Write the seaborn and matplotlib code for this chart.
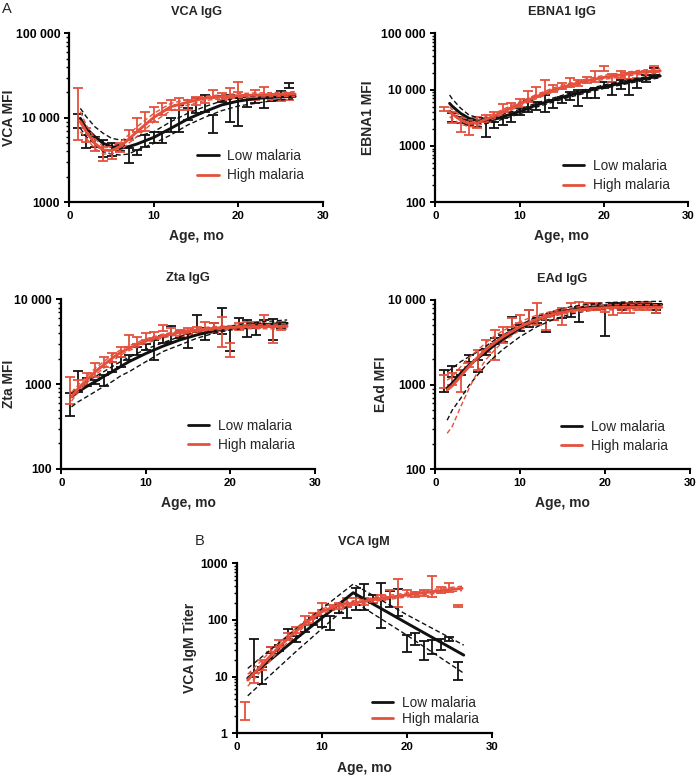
import numpy as np
import pandas as pd
import matplotlib
matplotlib.use("Agg")
import matplotlib.pyplot as plt
import seaborn as sns
from matplotlib.lines import Line2D
from matplotlib.ticker import LogLocator, NullFormatter, FixedLocator

nan = np.nan
months = list(range(1, 27))

# ---------------- VCA IgG ----------------
vca_low_hi = [11100, 6270, 6000, 5470, 5000, 4800, 4350, 4170, 6270, 6800, 6800, 9900, 14200, 12900, 17000, 18700, 10800, 18000, 18700, 17000, 18700, 18700, 18700, 18000, 20500, 25500]
vca_low_lo = [7500, 4350, 4500, 3470, 3530, 4000, 2950, 3630, 4560, 5000, 5000, 6800, 6800, 9400, 11300, 11800, 6600, 15500, 9000, 7900, 13500, 15000, 12900, 16000, 16200, 22300]
vca_high_hi = [22300, 7500, 5700, 4560, 4170, 5000, 7200, 9900, 11800, 13500, 14900, 16200, 17000, 16200, 17800, 17000, 21400, 19600, 22300, 26800, 18700, 21400, 23400, 18700, 19100, 19600]
vca_high_lo = [5470, 5200, 4000, 3050, 3300, 3900, 5470, 6800, 7000, 9000, 10800, 12400, 12400, 12400, 14200, 14900, 17000, 16200, 17000, 20400, 16200, 16200, 17800, 16200, 16000, 16200]
vca_fit_age = [1.3, 2, 3, 4, 5, 6, 7, 8, 10, 12, 14, 16, 18, 20, 22, 24, 26.7]
vca_low_fit = [9870, 7510, 5990, 4990, 4560, 4350, 4560, 4900, 5880, 7510, 9690, 11830, 14200, 15800, 16900, 17500, 17960]
vca_low_fit_hi = [12950, 10320, 7860, 6560, 5720, 5470, 5570, 5990, 6860, 9010, 11300, 13560, 15800, 17300, 18000, 18600, 19100]
vca_low_fit_lo = [7510, 5990, 4900, 3980, 3730, 3630, 3730, 4160, 4990, 6270, 8230, 10140, 12150, 13800, 14850, 15960, 16900]
vca_high_fit = [9010, 6860, 4990, 4160, 4100, 4560, 5570, 6860, 10140, 13560, 15300, 17100, 17800, 18300, 18600, 18900, 19100]
vca_high_fit_hi = [11830, 8230, 5720, 4560, 4560, 5150, 6270, 7860, 11300, 14850, 16500, 18000, 18700, 19400, 19700, 19900, 20400]
vca_high_fit_lo = [6860, 5720, 4350, 3730, 3730, 4100, 4990, 6000, 9010, 12150, 14200, 16000, 16900, 17300, 17500, 17800, 17900]

# ---------------- EBNA1 IgG ----------------
ebna_low_hi = [nan, 3800, 3320, 2890, 2890, 3100, 2700, 3100, 3550, 4660, 6550, 6120, 8040, 6550, 7510, 9210, 9860, 9860, 10560, 13870, 13870, 14850, 15200, 14850, 18200, 24300]
ebna_low_lo = [nan, 2700, 2520, 2360, 2200, 1460, 2060, 2360, 2700, 3550, 4070, 4350, 4070, 4660, 5720, 6550, 5200, 7010, 7200, 10560, 8040, 10300, 8040, 10560, 13870, 18200]
ebna_high_hi = [4900, 4070, 3100, 2700, 3320, 3550, 4070, 5560, 5720, 6700, 9600, 11000, 14850, 12100, 12950, 16300, 14850, 16500, 21700, 26300, 18900, 21200, 19500, 20900, 21700, 26300]
ebna_high_lo = [4220, 2520, 1800, 1570, 2060, 2700, 2980, 4070, 4070, 4990, 6120, 7300, 8900, 9210, 10200, 11000, 11800, 13000, 13870, 21200, 13870, 16300, 15200, 16000, 16300, 20900]
ebna_fit_age = [1.7, 2, 3, 4, 5, 6, 7, 8, 10, 12, 14, 16, 18, 20, 22, 24, 26.7]
ebna_low_fit = [5720, 5100, 3800, 3100, 2820, 2800, 2980, 3320, 4070, 5340, 6550, 8040, 9500, 11300, 12950, 14850, 17500]
ebna_low_fit_hi = [8040, 6900, 4700, 3550, 3200, 3100, 3300, 3650, 4450, 5800, 7100, 8700, 10200, 12100, 13900, 15900, 18700]
ebna_low_fit_lo = [4350, 3900, 3100, 2700, 2500, 2500, 2680, 3000, 3700, 4900, 6050, 7400, 8800, 10500, 12100, 13900, 16300]
ebna_high_fit = [4070, 3700, 2900, 2520, 2560, 2980, 3400, 4070, 5560, 7510, 9860, 12100, 14400, 16500, 18200, 20000, 21700]
ebna_high_fit_hi = [4990, 4450, 3400, 2900, 2900, 3320, 3750, 4450, 6050, 8200, 10700, 13100, 15600, 17900, 19800, 21800, 23900]
ebna_high_fit_lo = [3320, 3050, 2450, 2200, 2250, 2650, 3050, 3700, 5100, 6900, 9100, 11200, 13300, 15200, 16800, 18400, 19800]

# ---------------- Zta IgG ----------------
zta_low_hi = [790, 1430, 1170, 1120, 1280, 1840, 2110, 2210, 2720, 2960, 3320, 3700, 4850, 4250, 3880, 6540, 4550, 5300, 8000, 4760, 5970, 5710, 5210, 5710, 5800, 5450]
zta_low_lo = [420, 815, 960, 1010, 960, 1400, 1590, 1930, 2210, 2530, 1930, 3030, 3100, 3470, 2640, 4160, 3320, 4350, 3880, 2480, 4760, 3630, 3800, 4980, 3320, 4550]
zta_high_hi = [1230, 1120, 1340, 1760, 2110, 2330, 2720, 3800, 3630, 3970, 4160, 4980, 4550, 4350, 4550, 4760, 5450, 5210, 6250, 3030, 5210, 5450, 5450, 6540, 4980, 5450]
zta_high_lo = [590, 850, 980, 1230, 1590, 1800, 2070, 2770, 2960, 3320, 3470, 4250, 3880, 3700, 3880, 4160, 4350, 4060, 2770, 2110, 4350, 4550, 4550, 4980, 3030, 4350]
zta_fit_age = [1.2, 2, 3, 4, 5, 6, 7, 8, 10, 12, 14, 16, 18, 20, 22, 24, 26.7]
zta_low_fit = [710, 815, 940, 1070, 1230, 1400, 1610, 1840, 2300, 2800, 3320, 3800, 4240, 4550, 4850, 5050, 5210]
zta_low_fit_hi = [780, 890, 1070, 1230, 1400, 1610, 1840, 2070, 2580, 3080, 3630, 4160, 4550, 4850, 5210, 5450, 5710]
zta_low_fit_lo = [540, 620, 710, 815, 940, 1070, 1250, 1400, 1840, 2420, 2890, 3470, 3970, 4350, 4550, 4760, 4850]
zta_high_fit = [710, 890, 1120, 1400, 1680, 2020, 2360, 2640, 3230, 3700, 4060, 4350, 4550, 4660, 4760, 4760, 4800]
zta_high_fit_hi = [800, 980, 1230, 1540, 1840, 2210, 2530, 2820, 3420, 3880, 4250, 4550, 4760, 4900, 5000, 5050, 5150]
zta_high_fit_lo = [630, 815, 1030, 1280, 1540, 1840, 2200, 2480, 3030, 3500, 3880, 4160, 4350, 4450, 4500, 4500, 4450]

# ---------------- EAd IgG ----------------
ead_low_hi = [1490, 1660, 1490, 2240, 1960, 2620, 3530, 3860, 6360, 5070, 7620, 6080, 5810, 6960, 7620, 7620, 8340, 9130, 8730, 7970, 9130, 9130, 9130, 9560, 9560, 7620]
ead_low_lo = [830, 1220, 1300, 1870, 1420, 2240, 3020, 3220, 4420, 4330, 4840, 5300, 4230, 5810, 6080, 6360, 5550, 7620, 7620, 3760, 7970, 7620, 7970, 8340, 8340, 6960]
ead_high_hi = [1300, 1360, 1490, 1810, 2570, 3370, 4420, 4840, 6080, 6650, 7620, 9130, 6650, 7280, 7970, 9130, 9560, 9130, 9130, 8340, 7970, 8730, 9130, 9560, 9560, 8730]
ead_high_lo = [910, 990, 830, 1610, 1490, 2450, 1960, 3080, 4840, 5300, 5300, 5070, 4420, 5810, 5070, 7620, 7620, 7620, 7620, 7280, 6650, 6960, 6960, 7620, 7620, 6960]
ead_fit_age = [1.4, 2, 3, 4, 5, 6, 7, 8, 10, 12, 14, 16, 18, 20, 22, 24, 26.7]
ead_low_fit = [910, 1040, 1360, 1710, 2050, 2450, 2940, 3430, 4630, 5810, 6830, 7620, 8190, 8570, 8700, 8800, 8870]
ead_low_fit_hi = [1420, 1560, 1870, 2140, 2450, 2860, 3370, 3860, 5070, 6360, 7420, 8340, 8880, 9290, 9450, 9560, 9640]
ead_low_fit_lo = [380, 500, 690, 990, 1300, 1710, 2140, 2620, 3690, 4840, 5920, 6830, 7470, 7820, 7970, 8100, 8190]
ead_high_fit = [865, 970, 1260, 1650, 2100, 2620, 3140, 3690, 4840, 5920, 6830, 7470, 7890, 8100, 8190, 8190, 8190]
ead_high_fit_hi = [1130, 1240, 1630, 2100, 2570, 3140, 3770, 4340, 5550, 6650, 7470, 8100, 8530, 8730, 8800, 8800, 8800]
ead_high_fit_lo = [266, 320, 550, 910, 1420, 1990, 2570, 3220, 4420, 5550, 6480, 7080, 7470, 7620, 7620, 7620, 7620]

# ---------------- VCA IgM ----------------
igm_low_hi = [nan, 47, 15, 34, 36, 68, 52, 82, 107, 118, 118, 184, 172, 362, 430, 276, 444, 330, 350, 54, 60, 43, 44, 47, 51, 18.4]
igm_low_lo = [nan, 10, 7.5, 26, 28, 47, 41, 62, 82, 76, 67, 131, 107, 150, 150, 197, 71, 172, 118, 27, 36, 19.7, 25, 30, 43, 8.7]
igm_high_hi = [3.6, 11.7, 19.7, 34, 44, 58, 76, 118, 131, 197, 184, 202, 241, 241, 241, 232, 276, 338, 520, 338, 316, 338, 590, 375, 444, 184]
igm_high_lo = [1.7, 7.6, 13.1, 27, 34, 45, 60, 82, 87, 150, 150, 154, 172, 184, 184, 197, 225, 253, 172, 276, 253, 264, 253, 296, 316, 168]
igm_low_fit_age = [1.3, 7, 13.7, 20, 26.7]
igm_low_fit = [9.4, 47, 303, 88, 24]
igm_low_fit_hi = [14, 70, 430, 124, 36]
igm_low_fit_lo = [4.6, 28, 215, 54, 11.5]
igm_high_fit_age = [1.3, 5, 8, 10, 12, 14, 17, 20, 23, 26.5]
igm_high_fit = [8.7, 34, 87, 140, 184, 202, 241, 276, 316, 362]
igm_high_fit_hi = [11, 40, 97, 155, 200, 220, 262, 300, 345, 395]
igm_high_fit_lo = [6.8, 29, 78, 127, 168, 185, 222, 254, 290, 330]

# ---------------- text ----------------
titles = ["VCA IgG", "EBNA1 IgG", "Zta IgG", "EAd IgG", "VCA IgM"]
ylabels = ["VCA MFI", "EBNA1 MFI", "Zta MFI", "EAd MFI", "VCA IgM Titer"]
xlabel = "Age, mo"
legend_labels = ["Low malaria", "High malaria"]
x_ticks = [0, 10, 20, 30]
yt_vca = [1000, 10000, 100000]
yt_vca_lab = ["1000", "10 000", "100 000"]
yt_ebna = [100, 1000, 10000, 100000]
yt_ebna_lab = ["100", "1000", "10 000", "100 000"]
yt_zta = [100, 1000, 10000]
yt_zta_lab = ["100", "1000", "10 000"]
yt_igm = [1, 10, 100, 1000]
yt_igm_lab = ["1", "10", "100", "1000"]

BLACK = "#111111"
RED = "#E5503D"

sns.set_theme(style="ticks")
plt.rcParams["font.family"] = ["Liberation Sans", "DejaVu Sans"]

fig = plt.figure(figsize=(6.97, 7.77), dpi=100)

panels = [
    dict(pos=[0.0995, 0.7396, 0.364, 0.2175], title=titles[0], ylabel=ylabels[0],
         yt=yt_vca, ytl=yt_vca_lab, ylim=(1000, 100000), ylx=-0.212, leg=(0.505, 0.216), ls=0.38,
         bars=(vca_low_hi, vca_low_lo, vca_high_hi, vca_high_lo),
         low=(vca_fit_age, vca_low_fit, vca_low_fit_hi, vca_low_fit_lo),
         high=(vca_fit_age, vca_high_fit, vca_high_fit_hi, vca_high_fit_lo)),
    dict(pos=[0.6245, 0.7396, 0.3626, 0.2175], title=titles[1], ylabel=ylabels[1],
         yt=yt_ebna, ytl=yt_ebna_lab, ylim=(100, 100000), ylx=-0.24, leg=(0.505, 0.157), ls=0.38,
         bars=(ebna_low_hi, ebna_low_lo, ebna_high_hi, ebna_high_lo),
         low=(ebna_fit_age, ebna_low_fit, ebna_low_fit_hi, ebna_low_fit_lo),
         high=(ebna_fit_age, ebna_high_fit, ebna_high_fit_hi, ebna_high_fit_lo)),
    dict(pos=[0.088, 0.3964, 0.364, 0.2184], title=titles[2], ylabel=ylabels[2],
         yt=yt_zta, ytl=yt_zta_lab, ylim=(100, 10000), ylx=-0.18, leg=(0.50, 0.199), ls=0.38,
         bars=(zta_low_hi, zta_low_lo, zta_high_hi, zta_high_lo),
         low=(zta_fit_age, zta_low_fit, zta_low_fit_hi, zta_low_fit_lo),
         high=(zta_fit_age, zta_high_fit, zta_high_fit_hi, zta_high_fit_lo)),
    dict(pos=[0.6245, 0.396, 0.365, 0.2179], title=titles[3], ylabel=ylabels[3],
         yt=yt_zta, ytl=yt_zta_lab, ylim=(100, 10000), ylx=-0.186, leg=(0.493, 0.193), ls=0.38,
         bars=(ead_low_hi, ead_low_lo, ead_high_hi, ead_high_lo),
         low=(ead_fit_age, ead_low_fit, ead_low_fit_hi, ead_low_fit_lo),
         high=(ead_fit_age, ead_high_fit, ead_high_fit_hi, ead_high_fit_lo)),
    dict(pos=[0.3396, 0.0562, 0.366, 0.2188], title=titles[4], ylabel=ylabels[4],
         yt=yt_igm, ytl=yt_igm_lab, ylim=(1, 1000), ylx=-0.157, leg=(0.529, 0.131), ls=0.15,
         bars=(igm_low_hi, igm_low_lo, igm_high_hi, igm_high_lo),
         low=(igm_low_fit_age, igm_low_fit, igm_low_fit_hi, igm_low_fit_lo),
         high=(igm_high_fit_age, igm_high_fit, igm_high_fit_hi, igm_high_fit_lo)),
]

DASH = (0, (3.5, 2.0))


def draw_bars(ax, hi, lo, color):
    df = pd.DataFrame({"age": months, "hi": hi, "lo": lo}).dropna()
    ax.errorbar(df["age"], df["hi"], yerr=[df["hi"] - df["lo"], np.zeros(len(df))],
                fmt="none", ecolor=color, elinewidth=1.3, capsize=3.4, capthick=1.3,
                zorder=2)


def draw_fit(ax, curve, color, z):
    age, fit, fhi, flo = curve
    for vals, ls, lw in ((fhi, DASH, 1.0), (flo, DASH, 1.0), (fit, "-", 2.1)):
        d = pd.DataFrame({"age": age, "v": vals})
        sns.lineplot(data=d, x="age", y="v", ax=ax, color=color, lw=lw, linestyle=ls,
                     sort=False, estimator=None, legend=False, zorder=z)


for p in panels:
    ax = fig.add_axes(p["pos"])
    ax.set_yscale("log")
    lh, ll, hh, hl = p["bars"]
    draw_bars(ax, lh, ll, BLACK)
    draw_bars(ax, hh, hl, RED)
    draw_fit(ax, p["low"], BLACK, 3)
    draw_fit(ax, p["high"], RED, 4)

    ax.set_xlim(0, 30)
    ax.set_ylim(*p["ylim"])
    ax.xaxis.set_major_locator(FixedLocator(x_ticks))
    ax.set_xticklabels([str(t) for t in x_ticks])
    ax.yaxis.set_major_locator(FixedLocator(p["yt"]))
    ax.set_yticklabels(p["ytl"])
    ax.yaxis.set_minor_locator(LogLocator(base=10, subs=np.arange(2, 10), numticks=20))
    ax.yaxis.set_minor_formatter(NullFormatter())
    ax.xaxis.set_minor_locator(FixedLocator([]))
    sns.despine(ax=ax)
    for s in ("left", "bottom"):
        ax.spines[s].set_linewidth(1.6)
        ax.spines[s].set_color("black")
    ax.tick_params(axis="both", which="major", length=3.8, width=1.4, color="black",
                   pad=2.8, labelcolor="black")
    ax.tick_params(axis="x", which="major", labelsize=8.2)
    ax.tick_params(axis="y", which="major", labelsize=8.8)
    ax.tick_params(axis="y", which="minor", length=2.2, width=1.0, color="black")
    for lab in ax.get_xticklabels() + ax.get_yticklabels():
        lab.set_fontweight("bold")
    ax.set_title(p["title"], fontsize=9.2, fontweight="bold", pad=13)
    ax.set_xlabel(xlabel, fontsize=10, fontweight="bold")
    ax.set_ylabel(p["ylabel"], fontsize=10, fontweight="bold")
    ax.xaxis.set_label_coords(0.5, -0.16)
    ax.yaxis.set_label_coords(p["ylx"], 0.5)
    ax.grid(False)
    ax.set_facecolor("white")

    handles = [Line2D([], [], color=BLACK, lw=2.0), Line2D([], [], color=RED, lw=2.0)]
    ax.legend(handles, legend_labels, loc="center left", bbox_to_anchor=p["leg"],
              frameon=False, fontsize=9.8, handlelength=1.55, handletextpad=0.65,
              labelspacing=p["ls"], borderpad=0, borderaxespad=0)

fig.text(0.003, 0.989, "A", fontsize=10.5, ha="left", va="center")
fig.text(0.279, 0.304, "B", fontsize=10.5, ha="left", va="center")

fig.savefig("out.png", dpi=100, facecolor="white")
